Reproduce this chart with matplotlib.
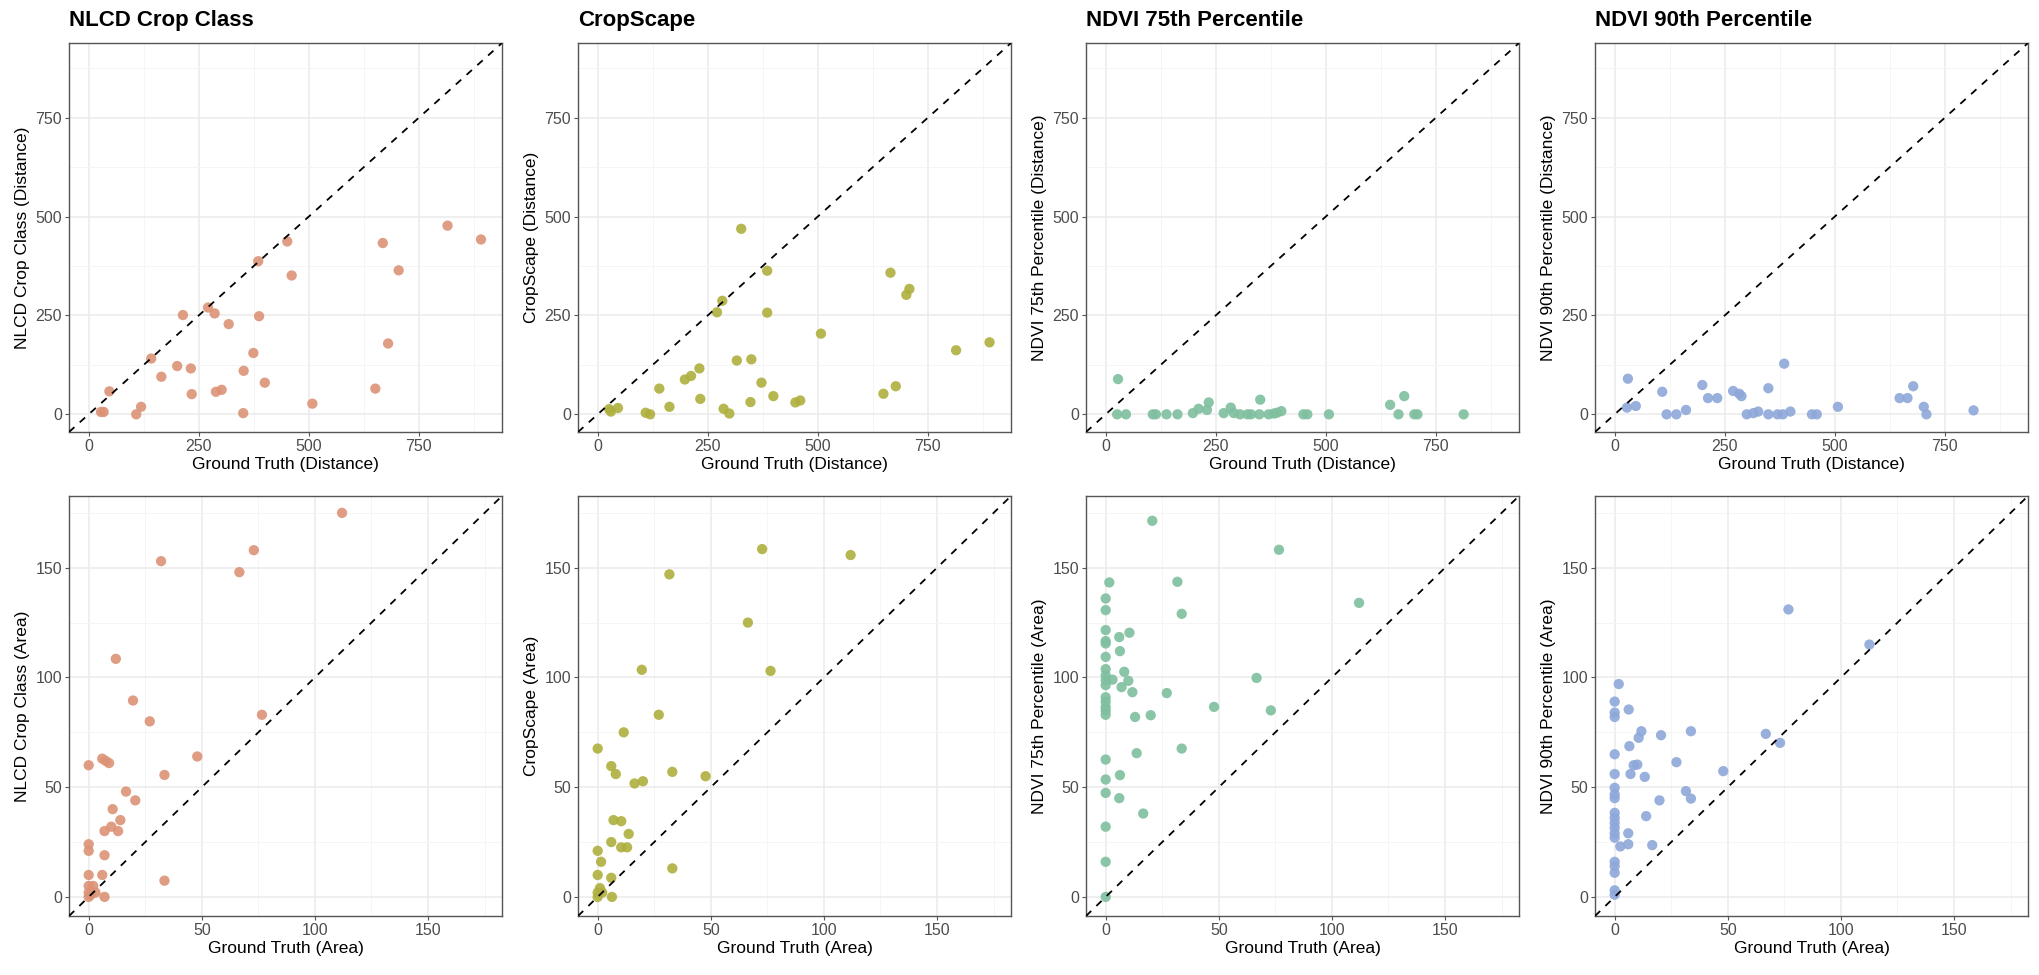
import matplotlib
matplotlib.use('Agg')
import matplotlib.pyplot as plt
from matplotlib.ticker import MultipleLocator

plt.rcParams['font.family'] = ['Liberation Sans', 'DejaVu Sans']

# ---- data ----
# distance panels (top row)
nlcd_dist_gt = [28, 34, 47, 108, 119, 142, 165, 201, 214, 232, 234, 271, 286, 289, 302, 318,
                351, 352, 374, 385, 387, 400, 451, 461, 508, 651, 668, 680, 704, 815, 891]
nlcd_dist = [6, 6, 58, 0, 19, 141, 95, 122, 251, 116, 51, 270, 255, 57, 62, 228,
             3, 110, 155, 387, 248, 80, 437, 351, 27, 65, 433, 179, 364, 477, 442]

crop_dist_gt = [26, 30, 46, 109, 119, 140, 163, 198, 212, 231, 233, 271, 283, 286, 299, 316, 326,
                349, 347, 372, 385, 385, 399, 449, 460, 507, 649, 665, 677, 701, 708, 814, 890]
crop_dist = [13, 7, 16, 4, 0, 65, 19, 88, 97, 116, 39, 258, 287, 14, 2, 136, 469,
             139, 31, 80, 363, 257, 46, 30, 35, 204, 52, 358, 71, 302, 317, 162, 182]

ndvi75_dist_gt = [28, 26, 46, 107, 114, 138, 163, 198, 211, 230, 234, 268, 284, 291, 305, 322,
                  330, 349, 351, 370, 382, 389, 399, 449, 458, 507, 646, 665, 678, 701, 708, 813]
ndvi75_dist = [89, 0, 0, 0, 0, 0, 0, 3, 14, 11, 30, 3, 17, 3, 0, 0,
               0, 0, 37, 0, 2, 4, 8, 0, 0, 0, 24, 0, 46, 0, 0, 0]

ndvi90_dist_gt = [30, 28, 48, 108, 118, 140, 162, 199, 212, 233, 269, 283, 288, 300, 315, 326,
                  349, 349, 370, 382, 385, 399, 448, 459, 507, 647, 665, 678, 702, 708, 815]
ndvi90_dist = [90, 17, 21, 57, 0, 0, 11, 74, 41, 41, 59, 52, 46, 0, 3, 7,
               0, 66, 0, 0, 128, 7, 0, 0, 19, 41, 41, 71, 19, 0, 10]

# area panels (bottom row)
nlcd_area_gt = [0, 0, 1, 2, 3, 0, 0, 0, 0, 0, 6, 7, 7, 7, 6, 7.5, 9, 10.6, 10, 12, 13, 14,
                16.5, 19.6, 20.6, 27, 32, 33.5, 33.5, 48, 66.6, 73, 76.6, 112]
nlcd_area = [0, 2, 1, 5, 2, 5, 10, 21, 24, 60, 10, 0, 19, 30, 63, 62, 61, 40, 32, 108.5, 30, 35,
             48, 89.5, 44, 80, 153, 55.6, 7.4, 64, 148, 158, 83, 175]

crop_area_gt = [0, 0, 0, 0, 0, 1, 2, 1.5, 6, 6, 6.3, 6, 8, 7, 10.4, 10.4, 13, 13.7, 11.5,
                16.3, 20, 19.5, 27, 31.7, 33, 33, 47.7, 66.4, 72.7, 76.4, 111.8]
crop_area = [67.6, 21, 10, 2, 0, 4, 2, 16, 25, 8.7, 0, 59.6, 56, 35, 34.5, 22.6, 22.6, 28.7, 75,
             51.7, 52.7, 103.5, 83, 147, 57, 13, 55, 125, 158.5, 103, 155.8]

ndvi75_area_gt = [0, 0, 0, 0, 0, 0, 0, 0, 0, 0, 0, 0, 0, 0, 0, 0, 0, 0, 0, 0, 0,
                  1.6, 3, 6, 6.3, 6.3, 6, 7, 8.2, 10.5, 10, 11.8, 13, 13.7, 16.6, 19.9, 20.6,
                  27, 31.7, 33.6, 33.6, 47.9, 66.7, 73, 76.6, 112]
ndvi75_area = [0, 16, 32, 47.4, 53.5, 62.6, 83, 85, 86.6, 89, 91, 96.5, 98.8, 101, 103.8, 109.4,
               115.5, 116.6, 121.6, 130.7, 136,
               143.3, 99, 118.4, 112, 55.5, 45, 95.6, 102.6, 120.4, 98.5, 93.3, 82, 65.5, 38, 82.8,
               171.4, 92.9, 143.6, 129, 67.6, 86.6, 99.8, 85, 158.2, 134]

ndvi90_area_gt = [0, 0, 0, 0, 0, 0, 0, 0, 0, 0, 0, 0, 0, 0, 0, 0, 0, 0, 0,
                  1.8, 2.5, 6, 6, 7, 6.5, 6.2, 8.4, 10, 10.6, 11.8, 13.3, 13.9, 16.6, 19.8, 20.5,
                  27.3, 31.5, 33.7, 33.7, 48, 66.8, 73.1, 76.8, 112.6]
ndvi90_area = [1, 3, 11, 14, 16, 27, 29, 31.5, 33.7, 36, 38.3, 45, 46.7, 49.7, 56, 65, 82, 84, 89,
               97, 23, 24, 29, 56, 68.7, 85.4, 60, 60.3, 72.5, 75.5, 54.7, 36.8, 23.6, 44, 73.7,
               61.4, 48.2, 44.8, 75.5, 57.3, 74.3, 70.2, 131, 115]

titles = ['NLCD Crop Class', 'CropScape', 'NDVI 75th Percentile', 'NDVI 90th Percentile']
colors = ['#DC9276', '#AEAF3E', '#7FBF9F', '#8EA8DA']

dist_sets = [(nlcd_dist_gt, nlcd_dist), (crop_dist_gt, crop_dist),
             (ndvi75_dist_gt, ndvi75_dist), (ndvi90_dist_gt, ndvi90_dist)]
area_sets = [(nlcd_area_gt, nlcd_area), (crop_area_gt, crop_area),
             (ndvi75_area_gt, ndvi75_area), (ndvi90_area_gt, ndvi90_area)]

W, H = 2040, 975
fig = plt.figure(figsize=(W / 100, H / 100), dpi=100)

lefts = [69, 578, 1086, 1595]
pw = 433


def style(ax, lim, major, minor):
    ax.set_xlim(lim)
    ax.set_ylim(lim)
    ax.xaxis.set_major_locator(MultipleLocator(major))
    ax.yaxis.set_major_locator(MultipleLocator(major))
    ax.xaxis.set_minor_locator(MultipleLocator(minor))
    ax.yaxis.set_minor_locator(MultipleLocator(minor))
    ax.grid(which='major', color='#EBEBEB', lw=1.1, zorder=0)
    ax.grid(which='minor', color='#F4F4F4', lw=0.6, zorder=0)
    ax.set_axisbelow(True)
    ax.tick_params(which='major', length=3, width=0.8, color='#555555',
                   labelsize=11.5, labelcolor='#4D4D4D', pad=2)
    ax.tick_params(which='minor', length=0)
    for s in ax.spines.values():
        s.set_color('#555555')
        s.set_linewidth(1.0)
    ax.axline((0, 0), slope=1, color='black', ls=(0, (4, 4)), lw=1.3, zorder=3)


for i in range(4):
    # top row: distance
    ax = fig.add_axes([lefts[i] / W, 1 - 432 / H, pw / W, 389 / H])
    gx, vy = dist_sets[i]
    ax.scatter(gx, vy, s=55, color=colors[i], edgecolors='none', alpha=0.9, zorder=2)
    style(ax, (-44.7, 938.7), 250, 125)
    ax.set_title(titles[i], loc='left', fontsize=16, fontweight='bold', pad=12)
    ax.set_xlabel('Ground Truth (Distance)', fontsize=12.5, labelpad=2)
    ax.set_ylabel(titles[i] + ' (Distance)', fontsize=12.5, labelpad=4)

    # bottom row: area
    ax = fig.add_axes([lefts[i] / W, 1 - 916 / H, pw / W, 420 / H])
    gx, vy = area_sets[i]
    ax.scatter(gx, vy, s=55, color=colors[i], edgecolors='none', alpha=0.9, zorder=2)
    style(ax, (-8.7, 182.7), 50, 25)
    ax.set_xlabel('Ground Truth (Area)', fontsize=12.5, labelpad=2)
    ax.set_ylabel(titles[i] + ' (Area)', fontsize=12.5, labelpad=4)

fig.savefig('out.png', dpi=100, facecolor='white')
